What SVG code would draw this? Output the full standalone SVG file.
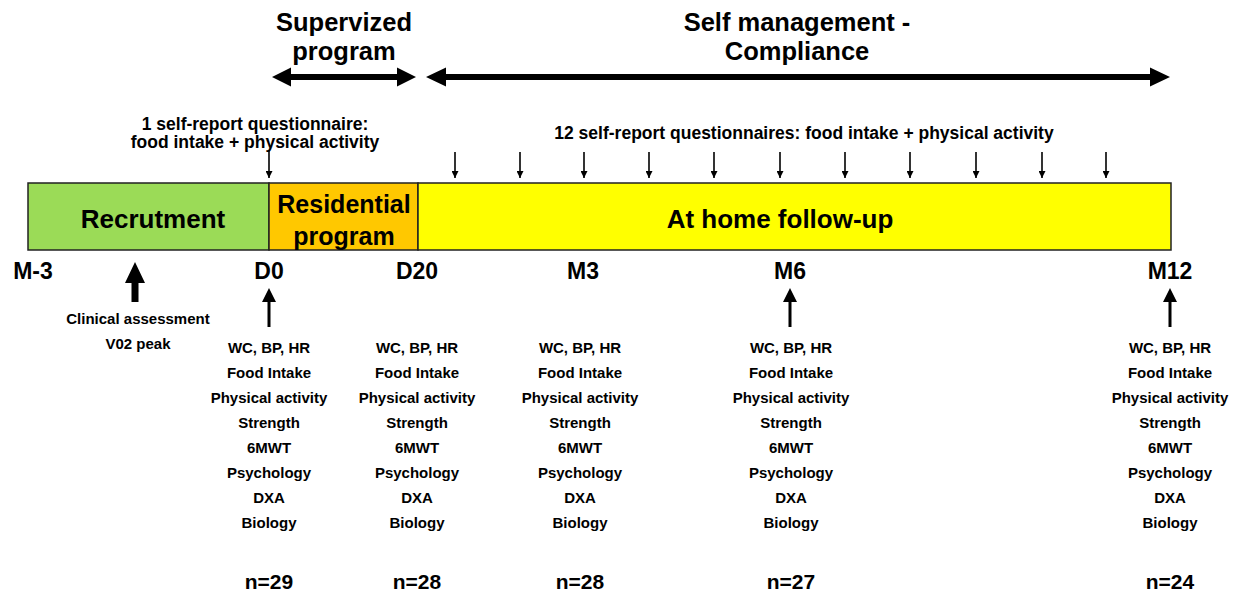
<svg xmlns="http://www.w3.org/2000/svg" width="1235" height="592" viewBox="0 0 1235 592">
<style>
text{font-family:"Liberation Sans",Arial,sans-serif;font-weight:bold;fill:#000;text-anchor:middle}
.hd{font-size:25.5px}
.bar{font-size:26px}
.tm{font-size:23px}
.ls{font-size:15px}
.q{font-size:17.5px}
.n{font-size:21px}
.thin{stroke:#000;stroke-width:1.6;fill:none}
</style>
<defs>
<marker id="sm" viewBox="0 0 10 10" refX="10" refY="5" markerWidth="9" markerHeight="7" markerUnits="userSpaceOnUse" orient="auto"><path d="M0,0L10,5L0,10z" fill="#000"/></marker>
</defs>
<g id="supervised">
<text class="hd" x="344" y="31">Supervized</text>
<text class="hd" x="344" y="60">program</text>
</g>
<g id="selfmanagement">
<text class="hd" x="797" y="31">Self management -</text>
<text class="hd" x="797" y="60">Compliance</text>
</g>
<g id="q1">
<text class="q" x="255" y="130">1 self-report questionnaire:</text>
<text class="q" x="255" y="148">food intake + physical activity</text>
</g>
<g id="q12">
<text class="q" x="804" y="139">12 self-report questionnaires: food intake + physical activity</text>
</g>
<g id="recrutment">
<rect x="28" y="183" width="241" height="67" fill="#9bdb57" stroke="#222" stroke-width="1.5"/>
<text class="bar" x="153" y="228">Recrutment</text>
</g>
<g id="residential">
<rect x="269" y="183" width="149" height="67" fill="#ffc800" stroke="#222" stroke-width="1.5"/>
<text class="bar" style="font-size:25px" x="344" y="213">Residential</text>
<text class="bar" style="font-size:25px" x="344" y="245">program</text>
</g>
<g id="athome">
<rect x="418" y="183" width="753" height="67" fill="#ffff00" stroke="#222" stroke-width="1.5"/>
<text class="bar" x="780" y="228">At home follow-up</text>
</g>
<g id="timepoints">
<text class="tm" x="33" y="279">M-3</text>
<text class="tm" x="269" y="279">D0</text>
<text class="tm" x="417" y="279">D20</text>
<text class="tm" x="583" y="279">M3</text>
<text class="tm" x="790" y="279">M6</text>
<text class="tm" x="1170" y="279">M12</text>
</g>
<g id="clinical">
<text class="ls" x="138" y="324">Clinical assessment</text>
<text class="ls" x="138" y="349">V02 peak</text>
</g>
<g id="d0list">
<text class="ls" x="269" y="353">WC, BP, HR</text><text class="ls" x="269" y="378">Food Intake</text><text class="ls" x="269" y="403">Physical activity</text><text class="ls" x="269" y="428">Strength</text><text class="ls" x="269" y="453">6MWT</text><text class="ls" x="269" y="478">Psychology</text><text class="ls" x="269" y="503">DXA</text><text class="ls" x="269" y="528">Biology</text>
<text class="n" x="269" y="589">n=29</text>
</g>
<g id="d20list">
<text class="ls" x="417" y="353">WC, BP, HR</text><text class="ls" x="417" y="378">Food Intake</text><text class="ls" x="417" y="403">Physical activity</text><text class="ls" x="417" y="428">Strength</text><text class="ls" x="417" y="453">6MWT</text><text class="ls" x="417" y="478">Psychology</text><text class="ls" x="417" y="503">DXA</text><text class="ls" x="417" y="528">Biology</text>
<text class="n" x="417" y="589">n=28</text>
</g>
<g id="m3list">
<text class="ls" x="580" y="353">WC, BP, HR</text><text class="ls" x="580" y="378">Food Intake</text><text class="ls" x="580" y="403">Physical activity</text><text class="ls" x="580" y="428">Strength</text><text class="ls" x="580" y="453">6MWT</text><text class="ls" x="580" y="478">Psychology</text><text class="ls" x="580" y="503">DXA</text><text class="ls" x="580" y="528">Biology</text>
<text class="n" x="580" y="589">n=28</text>
</g>
<g id="m6list">
<text class="ls" x="791" y="353">WC, BP, HR</text><text class="ls" x="791" y="378">Food Intake</text><text class="ls" x="791" y="403">Physical activity</text><text class="ls" x="791" y="428">Strength</text><text class="ls" x="791" y="453">6MWT</text><text class="ls" x="791" y="478">Psychology</text><text class="ls" x="791" y="503">DXA</text><text class="ls" x="791" y="528">Biology</text>
<text class="n" x="791" y="589">n=27</text>
</g>
<g id="m12list">
<text class="ls" x="1170" y="353">WC, BP, HR</text><text class="ls" x="1170" y="378">Food Intake</text><text class="ls" x="1170" y="403">Physical activity</text><text class="ls" x="1170" y="428">Strength</text><text class="ls" x="1170" y="453">6MWT</text><text class="ls" x="1170" y="478">Psychology</text><text class="ls" x="1170" y="503">DXA</text><text class="ls" x="1170" y="528">Biology</text>
<text class="n" x="1170" y="589">n=24</text>
</g>
<g id="connectors">
<path d="M272,77L291,67.5V74H397V67.5L416,77L397,86.5V80H291V86.5Z" fill="#000"/>
<path d="M426,77L446,67.5V74H1150V67.5L1170,77L1150,86.5V80H446V86.5Z" fill="#000"/>
<line class="thin" x1="269" y1="151" x2="269" y2="178" marker-end="url(#sm)"/>
<g class="thin">
<line x1="455" y1="152" x2="455" y2="178" marker-end="url(#sm)"/>
<line x1="520" y1="152" x2="520" y2="178" marker-end="url(#sm)"/>
<line x1="584" y1="152" x2="584" y2="178" marker-end="url(#sm)"/>
<line x1="649" y1="152" x2="649" y2="178" marker-end="url(#sm)"/>
<line x1="714" y1="152" x2="714" y2="178" marker-end="url(#sm)"/>
<line x1="780" y1="152" x2="780" y2="178" marker-end="url(#sm)"/>
<line x1="845" y1="152" x2="845" y2="178" marker-end="url(#sm)"/>
<line x1="910" y1="152" x2="910" y2="178" marker-end="url(#sm)"/>
<line x1="976" y1="152" x2="976" y2="178" marker-end="url(#sm)"/>
<line x1="1042" y1="152" x2="1042" y2="178" marker-end="url(#sm)"/>
<line x1="1106" y1="152" x2="1106" y2="178" marker-end="url(#sm)"/>
</g>
<path d="M135,262L145,283H138.5V302H131.5V283H125Z" fill="#000"/>
<path d="M269,288L276,302H270.5V327H267.5V302H262Z" fill="#000"/>
<path d="M790,288L797,302H791.5V327H788.5V302H783Z" fill="#000"/>
<path d="M1170,288L1177,302H1171.5V327H1168.5V302H1163Z" fill="#000"/>
</g>
</svg>
